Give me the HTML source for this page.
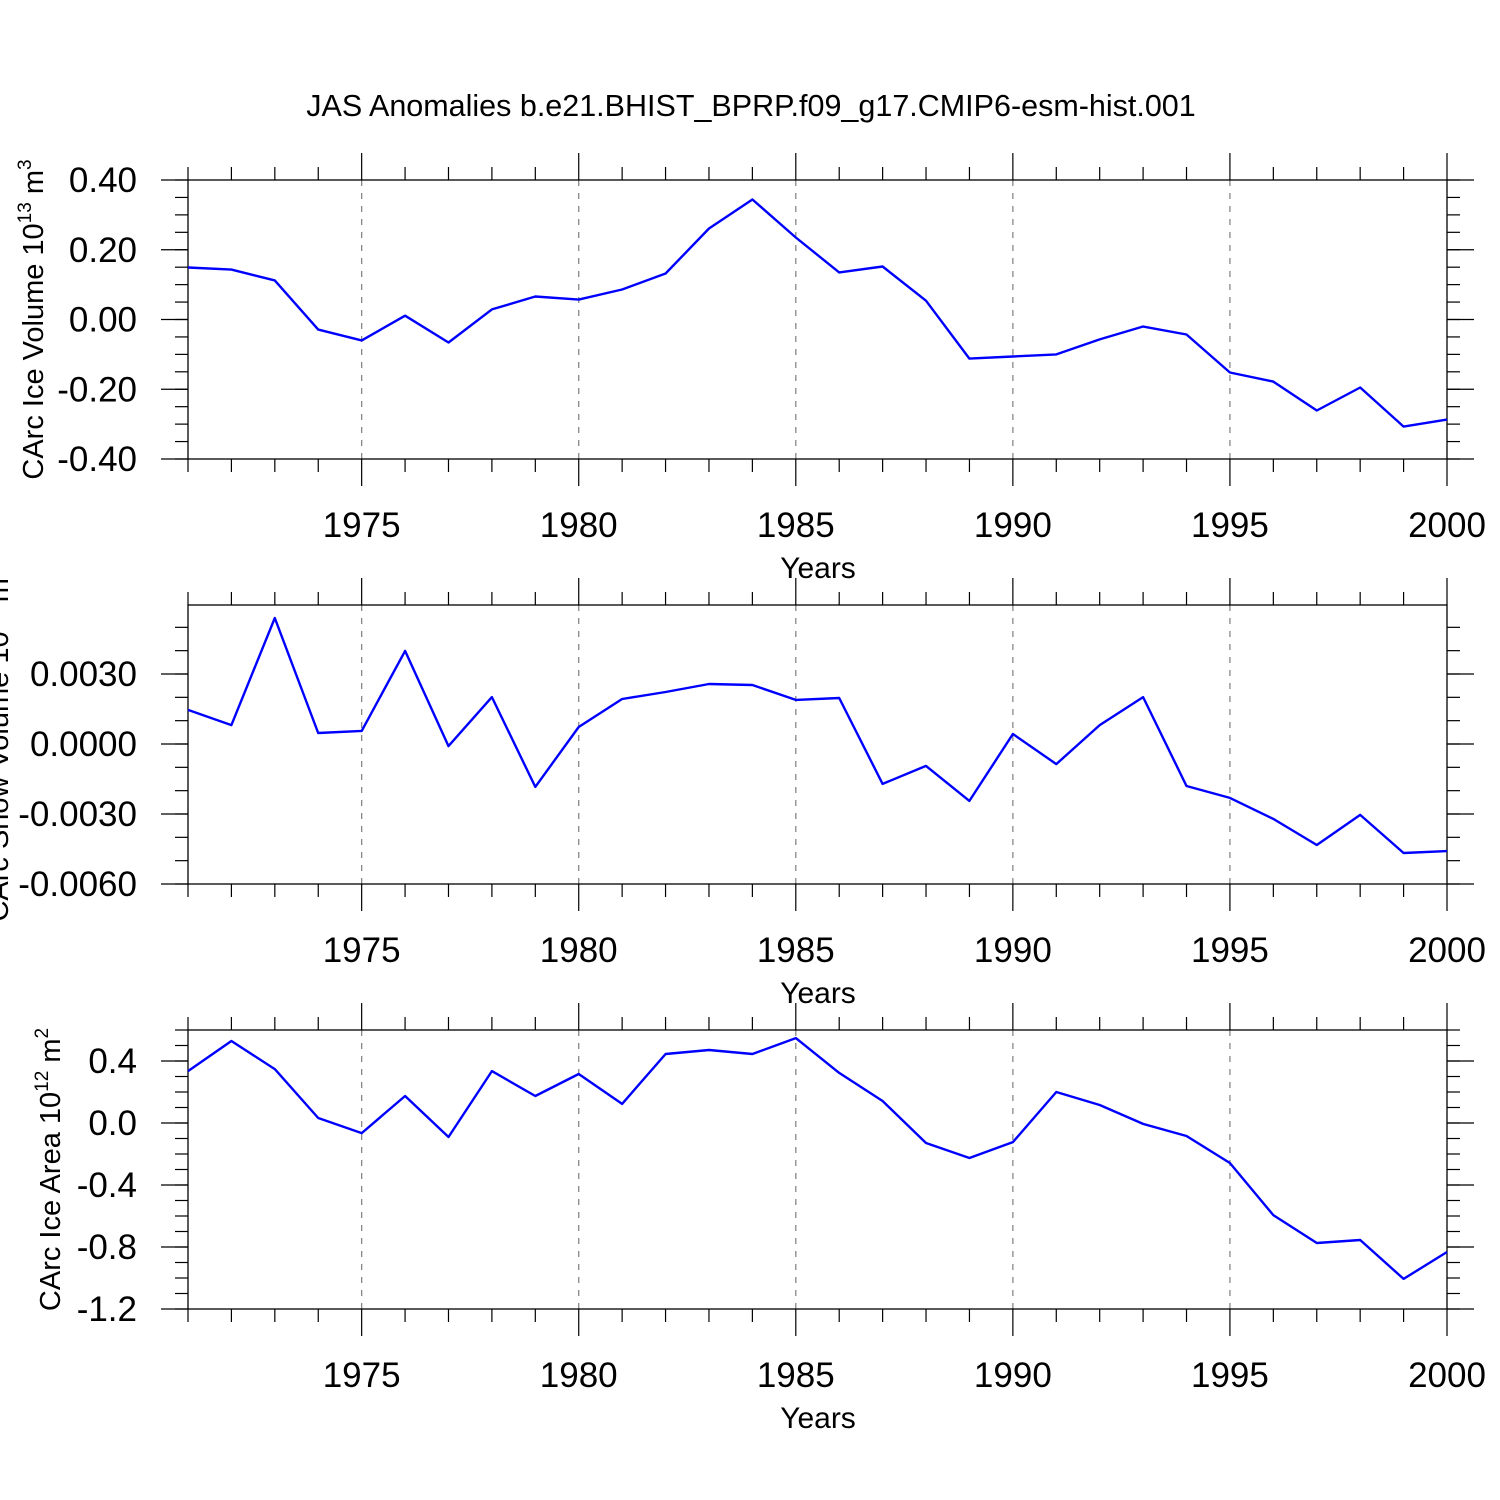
<!DOCTYPE html>
<html><head><meta charset="utf-8">
<style>
html,body{margin:0;padding:0;background:#fff;width:1500px;height:1500px;overflow:hidden}
svg text{font-family:"Liberation Sans",Arial,sans-serif;fill:#000}
</style></head>
<body>
<svg id="chart" width="1500" height="1500" xmlns="http://www.w3.org/2000/svg">
<text x="751" y="116" font-size="30.5" text-anchor="middle">JAS Anomalies b.e21.BHIST_BPRP.f09_g17.CMIP6-esm-hist.001</text>
</svg>
<script>
const years = [1971,1972,1973,1974,1975,1976,1977,1978,1979,1980,1981,1982,1983,1984,1985,1986,1987,1988,1989,1990,1991,1992,1993,1994,1995,1996,1997,1998,1999,2000];
const iceVolume = [0.149,0.143,0.112,-0.029,-0.060,0.011,-0.066,0.029,0.066,0.057,0.086,0.132,0.261,0.344,0.235,0.135,0.152,0.054,-0.112,-0.106,-0.100,-0.057,-0.020,-0.043,-0.152,-0.178,-0.261,-0.195,-0.307,-0.287];
const snowVolume = [0.00146,0.00081,0.0054,0.00047,0.00056,0.00399,-0.00009,0.00201,-0.00184,0.00073,0.00193,0.00223,0.00257,0.00253,0.00189,0.00197,-0.00171,-0.00094,-0.00244,0.00043,-0.00086,0.00081,0.00201,-0.0018,-0.00231,-0.00321,-0.00433,-0.00304,-0.00467,-0.00459];
const iceArea = [0.335,0.529,0.348,0.032,-0.065,0.174,-0.09,0.335,0.174,0.316,0.123,0.445,0.471,0.445,0.548,0.323,0.142,-0.129,-0.226,-0.123,0.2,0.116,-0.006,-0.084,-0.258,-0.594,-0.774,-0.755,-1.006,-0.832];
const xTickLabels = ["1975","1980","1985","1990","1995","2000"];
const volTicks = [0.4,0.2,0,-0.2,-0.4];
const volTickLabels = ["0.40","0.20","0.00","-0.20","-0.40"];
const snowTicks = [0.003,0,-0.003,-0.006];
const snowTickLabels = ["0.0030","0.0000","-0.0030","-0.0060"];
const areaTicks = [0.4,0,-0.4,-0.8,-1.2];
const areaTickLabels = ["0.4","0.0","-0.4","-0.8","-1.2"];

const NS="http://www.w3.org/2000/svg";
const svg=document.getElementById('chart');
const X0=188,X1=1447,Y0=1971,Y1=2000;
const xs=y=>X0+(y-Y0)/(Y1-Y0)*(X1-X0);
function mk(tag,attrs,parent){const e=document.createElementNS(NS,tag);for(const k in attrs)e.setAttribute(k,attrs[k]);(parent||svg).appendChild(e);return e;}

const panels=[
 {name:'ice-volume',top:180,bot:459,vmin:-0.4,vmax:0.4,data:iceVolume,ticks:volTicks,labels:volTickLabels,minor:0.05,title:['CArc Ice Volume 10','13',' m','3'],tx:33},
 {name:'snow-volume',top:605,bot:884,vmin:-0.006,vmax:0.005957,data:snowVolume,ticks:snowTicks,labels:snowTickLabels,minor:0.001,title:['CArc Snow Volume 10','13',' m','3'],tx:-2},
 {name:'ice-area',top:1030,bot:1309,vmin:-1.2,vmax:0.6,data:iceArea,ticks:areaTicks,labels:areaTickLabels,minor:0.1,title:['CArc Ice Area 10','12',' m','2'],tx:50}
];

panels.forEach(p=>{
  const g=mk('g',{});
  
  
  const ys=v=>p.bot-(v-p.vmin)/(p.vmax-p.vmin)*(p.bot-p.top);
  for(let yr=1975;yr<2000;yr+=5){
    const l=mk('line',{x1:xs(yr),x2:xs(yr),y1:p.top,y2:p.bot,stroke:'#888','stroke-width':1.3,'stroke-dasharray':'6,7'},g);
    
    
  }
  for(let yr=1971;yr<=2000;yr++){
    const len=(yr%5===0)?27:13;
    mk('line',{x1:xs(yr),x2:xs(yr),y1:p.top,y2:p.top-len,stroke:'#000','stroke-width':1.2},g);
    mk('line',{x1:xs(yr),x2:xs(yr),y1:p.bot,y2:p.bot+len,stroke:'#000','stroke-width':1.2},g);
  }
  const n=Math.round((p.vmax-p.vmin)/p.minor);
  for(let i=0;i<=n+1;i++){
    const v=p.vmin+i*p.minor; if(v>p.vmax+1e-9) break;
    const y=ys(v);
    mk('line',{x1:X0,x2:X0-13,y1:y,y2:y,stroke:'#000','stroke-width':1.2},g);
    mk('line',{x1:X1,x2:X1+13,y1:y,y2:y,stroke:'#000','stroke-width':1.2},g);
  }
  p.ticks.forEach((v,i)=>{
    const y=ys(v);
    mk('line',{x1:X0,x2:X0-27,y1:y,y2:y,stroke:'#000','stroke-width':1.2},g);
    mk('line',{x1:X1,x2:X1+27,y1:y,y2:y,stroke:'#000','stroke-width':1.2},g);
    const t=mk('text',{x:137,y:y+12,'font-size':35,'text-anchor':'end'},g);
    t.textContent=p.labels[i];
    
    
  });
  xTickLabels.forEach(s=>{
    const t=mk('text',{x:xs(+s),y:p.bot+78,'font-size':35,'text-anchor':'middle'},g);
    t.textContent=s;
    
    
  });
  const xt=mk('text',{x:818,y:p.bot+119,'font-size':30,'text-anchor':'middle'},g);
  xt.textContent='Years';
  
  
  const cy=(p.top+p.bot)/2;
  const yt=mk('text',{x:0,y:0,'font-size':29,'text-anchor':'middle',transform:`translate(${p.tx+10},${cy}) rotate(-90)`},g);
  
  
  const a=mk('tspan',{},yt);a.textContent=p.title[0];
  const b=mk('tspan',{dy:-12,'font-size':19},yt);b.textContent=p.title[1];
  const c=mk('tspan',{dy:12},yt);c.textContent=p.title[2];
  const d=mk('tspan',{dy:-12,'font-size':19},yt);d.textContent=p.title[3];
  const fr=mk('rect',{x:X0,y:p.top,width:X1-X0,height:p.bot-p.top,fill:'none',stroke:'#000','stroke-width':1.3},g);
  
  
  const pts=years.map((yr,i)=>xs(yr).toFixed(1)+','+ys(p.data[i]).toFixed(1)).join(' ');
  const line=mk('polyline',{points:pts,fill:'none',stroke:'#0000ff','stroke-width':2.4,'stroke-linejoin':'round'},g);
  
  
});
</script>
</body></html>
